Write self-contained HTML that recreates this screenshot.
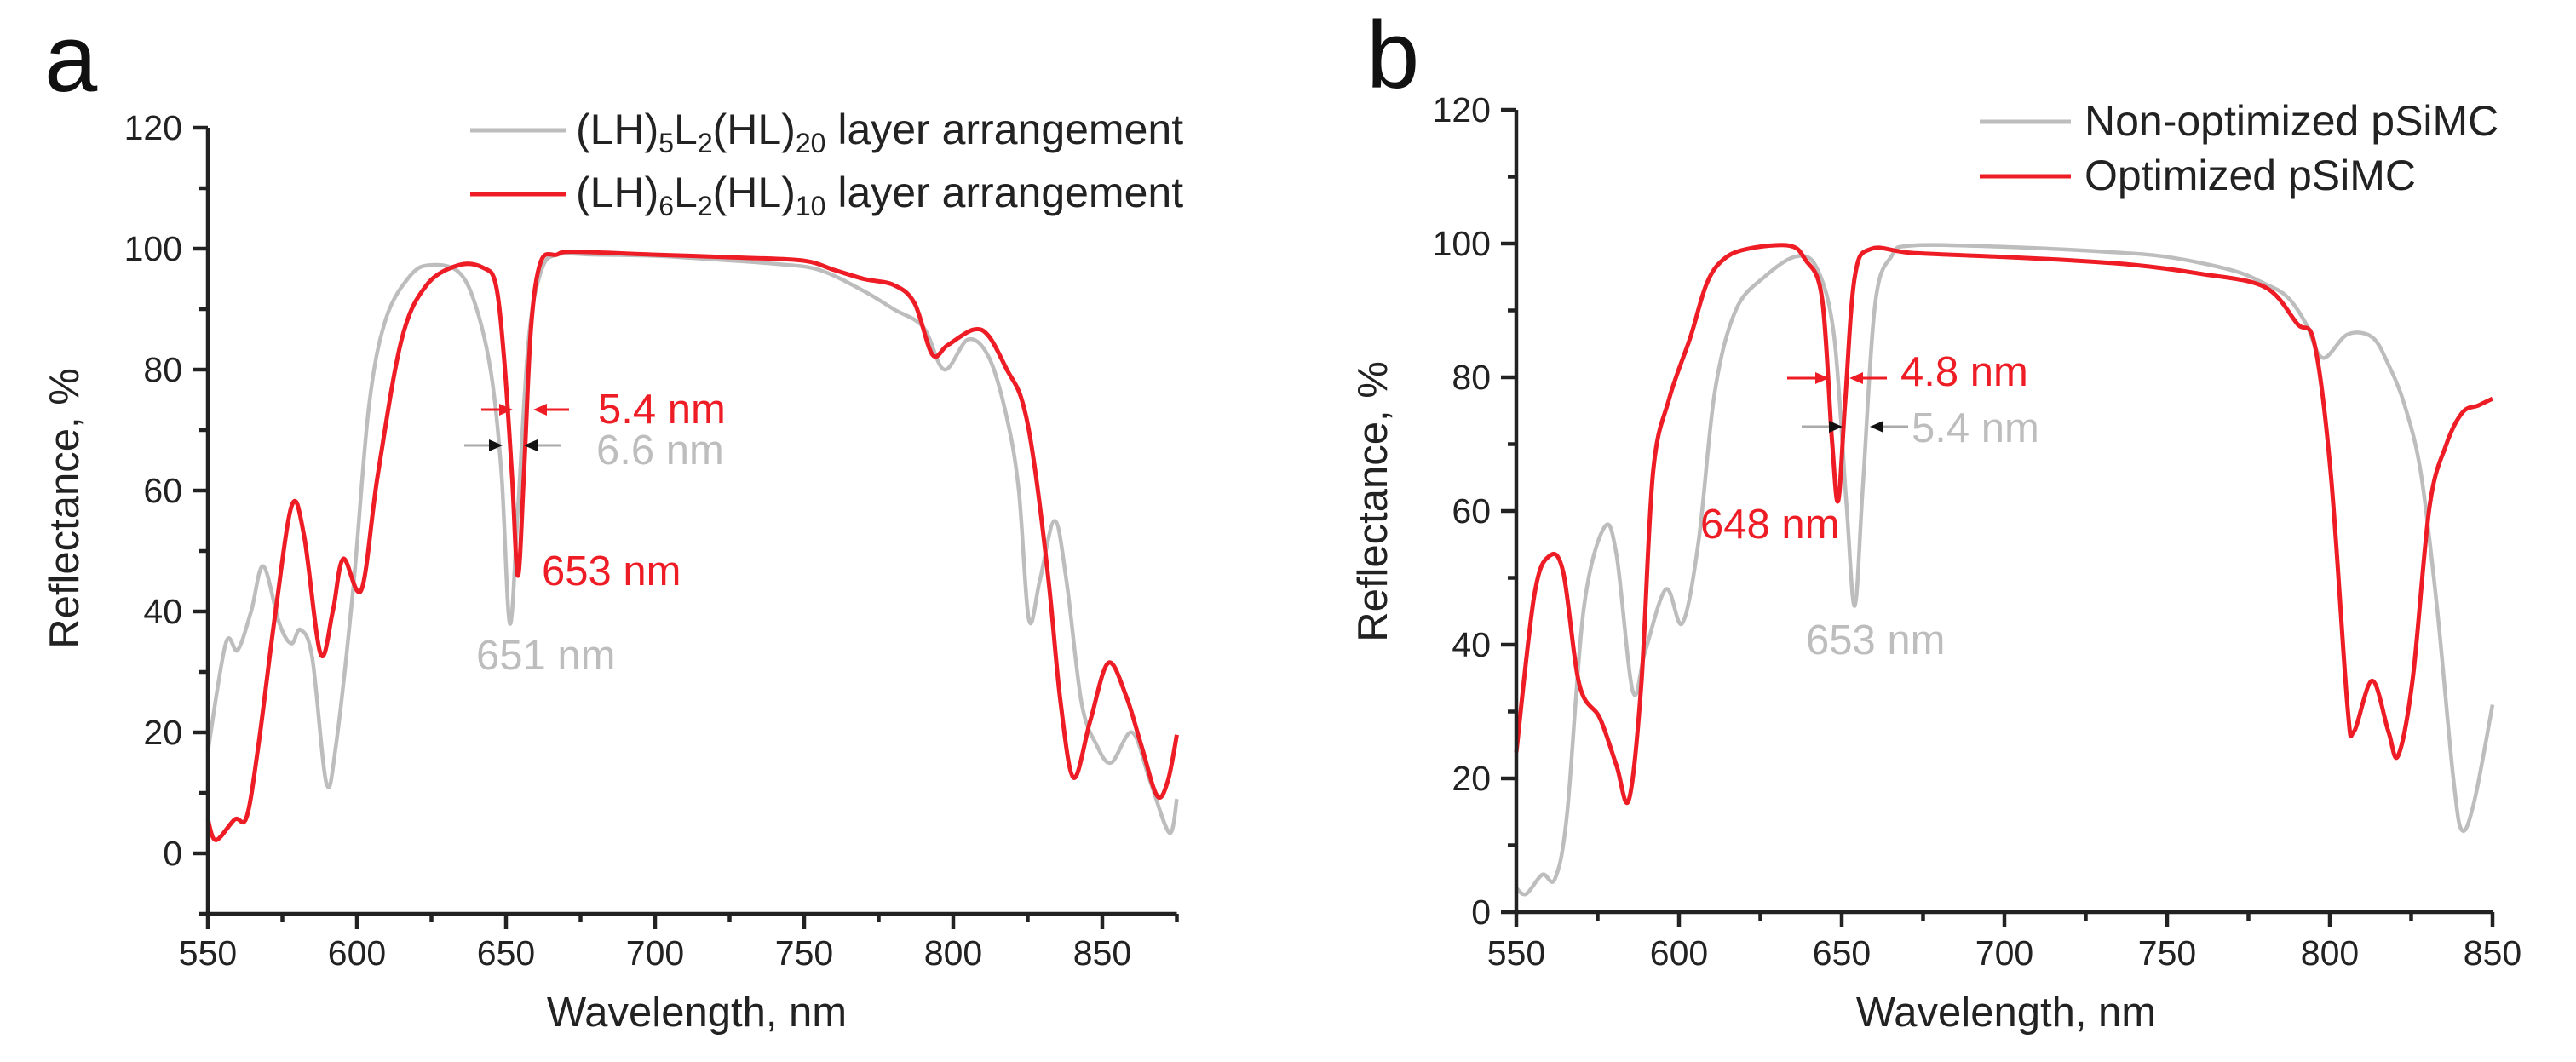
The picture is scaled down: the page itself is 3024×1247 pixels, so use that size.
<!DOCTYPE html>
<html><head><meta charset="utf-8"><style>
html,body{margin:0;padding:0;background:#fff;}
svg{display:block;font-family:"Liberation Sans",Arial,sans-serif;}
</style></head><body>
<svg id="fig" width="3024" height="1247" viewBox="0 0 3024 1247" xmlns="http://www.w3.org/2000/svg"></svg>
<script>
// Panel a data
const aGrayX=[550,556,560,564.5,568.6,574,578,581,585,589.7,593,598.7,604,609.7,618,624.7,634,639.8,645,648.5,651.3,654,657.6,661.7,667,680,700,720,740,755,770,780,790,797,805,812,818,822,825.4,829,834,838,843,848,853,860,866,872.5,875];
const aGrayY=[16.8,34.7,33.6,40,47.5,38,34.7,37,32.4,11.7,18,43.6,73.8,88.4,95.6,97.3,96.2,90.6,79.4,62.6,38,57,85,96.2,99,99,98.8,98.2,97.5,96.5,93,90,87,80,85,82,72,60,38.6,45,55,45,25,18,15,20,12,3.4,9];
const aRedX=[550,552.7,559,563,567,572.7,578.2,582.3,587.8,591.9,595.4,601.5,607,615,623.4,634.3,642.5,646.6,649.4,652,654,656,658.4,661.7,667,672.6,700,730,750,760,770,780,787,793,798,806.8,812,818,823,827,832,836,840.4,846,852,858,863,868.4,872,875];
const aRedY=[5.6,2.2,5.6,6,18,40,57.6,52.5,33,40,48.7,43.6,62.6,85,94,97.3,96.8,94,81.6,62.6,45.9,62.6,87,97.9,99,99.5,99,98.5,98,96.5,95,94,91,82.5,84,86.6,85.5,80,75,65,45,25,12.5,22,31.5,26,18,9.5,12,19.6];
// Panel b data
const bGrayX=[550,553,558,561.9,565.6,570.7,577,580.8,585.8,589.6,596,601,606,611,617.4,626.2,636.3,642.6,647.7,651.4,654,656.5,660.3,665.3,671.6,700,730,750,770,780,787,792.7,797.8,805.4,813,818,823,828,833,838,840.7,844.5,850];
const bGrayY=[3.6,2.7,5.6,5,14.7,45.3,57.5,53.4,33,39,48.3,43.2,55.4,77.8,90,95,98.1,96.1,86,61.5,45.8,63.6,91,98.1,99.7,99.5,98.8,98,96,94,92,88,82.9,86.4,86,81.9,75.8,65.6,45.3,19.8,12.2,16.8,31];
const bRedX=[550,555.5,560,564.4,569.4,575.7,580.8,584.6,588.4,592,597,603.5,608.5,613.6,621,633.8,638.8,643.9,647,648.9,651,654,659,671.6,700,720,740,760,780,790,795.3,800.3,805.4,807.4,813,818,821,825.5,830.6,835.6,840.7,845.7,850];
const bRedY=[23.9,47.3,53.2,50.9,34,29,21.9,16.8,34,65.6,76.8,86,94,97.6,99.2,99.7,97.6,92,70.7,61.5,75.8,95,99.2,98.6,98,97.5,96.8,95.5,93.5,88,85,65.6,31,27,34.6,27,23.4,35,60.5,69.7,74.7,75.8,76.8];
const aXTicks=[550,600,650,700,750,800,850];
const aYTicks=[0,20,40,60,80,100,120];
const bXTicks=[550,600,650,700,750,800,850];
const bYTicks=[0,20,40,60,80,100,120];

const NS='http://www.w3.org/2000/svg';
const svg=document.getElementById('fig');
function el(tag,attrs,parent,text){const e=document.createElementNS(NS,tag);for(const k in attrs)e.setAttribute(k,attrs[k]);if(text!==undefined)e.textContent=text;(parent||svg).appendChild(e);return e;}
function smooth(pts){let d='M'+pts[0][0].toFixed(1)+','+pts[0][1].toFixed(1);
 for(let i=0;i<pts.length-1;i++){const p0=pts[Math.max(0,i-1)],p1=pts[i],p2=pts[i+1],p3=pts[Math.min(pts.length-1,i+2)];
 const c1=[p1[0]+(p2[0]-p0[0])/6,p1[1]+(p2[1]-p0[1])/6],c2=[p2[0]-(p3[0]-p1[0])/6,p2[1]-(p3[1]-p1[1])/6];
 d+='C'+c1[0].toFixed(1)+','+c1[1].toFixed(1)+' '+c2[0].toFixed(1)+','+c2[1].toFixed(1)+' '+p2[0].toFixed(1)+','+p2[1].toFixed(1);}return d;}

function panel(cfg){
 const g=el('g',{});
 
 
 const X=v=>cfg.x0+(v-cfg.xmin)*cfg.sx, Y=v=>cfg.y0-(v)*cfg.sy;
 cfg.series.forEach(s=>{const p=el('path',{d:smooth(s.x.map((v,i)=>[X(v),Y(s.y[i])])),fill:'none',stroke:s.color,'stroke-width':s.w,'stroke-linejoin':'round'},g);
  
  });
 const axB=Y(cfg.ymin), axT=Y(cfg.ymax), axL=cfg.x0, axR=X(cfg.xmax);
 const ya=el('line',{x1:axL,y1:axT,x2:axL,y2:axB+2,stroke:'#222','stroke-width':4.5},g);
 
 
 const xa=el('line',{x1:axL-2,y1:axB,x2:axR,y2:axB,stroke:'#222','stroke-width':4.5},g);
 
 
 cfg.xt.forEach(v=>{el('line',{x1:X(v),y1:axB,x2:X(v),y2:axB+18,stroke:'#222','stroke-width':4.5},g);
  const t=el('text',{x:X(v),y:1133,'text-anchor':'middle','font-size':41,fill:'#222'},g,String(v));
  
  
  if(v+25<=cfg.xmax)el('line',{x1:X(v+25),y1:axB,x2:X(v+25),y2:axB+10,stroke:'#222','stroke-width':4.5},g);});
 cfg.yt.forEach(v=>{el('line',{x1:axL-18,y1:Y(v),x2:axL,y2:Y(v),stroke:'#222','stroke-width':4.5},g);
  const t=el('text',{x:axL-30,y:Y(v)+14,'text-anchor':'end','font-size':41,fill:'#222'},g,String(v));
  
  
  if(v+10<cfg.ymax)el('line',{x1:axL-10,y1:Y(v+10),x2:axL,y2:Y(v+10),stroke:'#222','stroke-width':4.5},g);});
 if(cfg.ymin<0)el('line',{x1:axL-10,y1:axB,x2:axL,y2:axB,stroke:'#222','stroke-width':4.5},g);
 const xt=el('text',{x:cfg.xtitleX,y:1205,'text-anchor':'middle','font-size':49,fill:'#222'},g,'Wavelength, nm');
 
 
 const yt=el('text',{x:0,y:0,'text-anchor':'middle','font-size':49,fill:'#222',transform:`translate(${cfg.ytitleX},${cfg.ytitleY}) rotate(-90)`},g,'Reflectance, %');
 
 
 return {g,X,Y};
}
function arrow(g,x1,x2,y,color,name){
 const dir=Math.sign(x2-x1);
 const l=el('line',{x1:x1,y1:y,x2:x2-dir*14,y2:y,stroke:color,'stroke-width':3},g);
 
 
 el('polygon',{points:`${x2},${y} ${x2-dir*16},${y-7} ${x2-dir*16},${y+7}`,fill:color==='#aaa'?'#111':color},g);
}
function txt(g,x,y,s,color,size,name,anchor){const t=el('text',{x:x,y:y,'font-size':size,fill:color,'text-anchor':anchor||'start'},g,s);
 
 return t;}

const RED='#ee1c25', GRAY='#bdbdbd';
const A=panel({name:'panel-a',x0:244,xmin:550,xmax:875,sx:3.5,y0:1002,sy:7.1,ymin:-10,ymax:120,xt:aXTicks,yt:aYTicks,xtitleX:818,ytitleX:92,ytitleY:597,
 series:[{name:'series-a-gray',x:aGrayX,y:aGrayY,color:GRAY,w:4.5},{name:'series-a-red',x:aRedX,y:aRedY,color:RED,w:5}]});
txt(A.g,52,107,'a','#111',112,'panel-label-a');
el('line',{x1:552,y1:153,x2:664,y2:153,stroke:GRAY,'stroke-width':5},A.g);
const la=el('text',{x:676,y:169,'font-size':50,fill:'#222'},A.g);


la.innerHTML='(LH)<tspan font-size="32" dy="10">5</tspan><tspan dy="-10">L</tspan><tspan font-size="32" dy="10">2</tspan><tspan dy="-10">(HL)</tspan><tspan font-size="32" dy="10">20</tspan><tspan dy="-10"> layer arrangement</tspan>';
el('line',{x1:552,y1:228,x2:664,y2:228,stroke:RED,'stroke-width':5},A.g);
const lb=el('text',{x:676,y:243,'font-size':50,fill:'#222'},A.g);


lb.innerHTML='(LH)<tspan font-size="32" dy="10">6</tspan><tspan dy="-10">L</tspan><tspan font-size="32" dy="10">2</tspan><tspan dy="-10">(HL)</tspan><tspan font-size="32" dy="10">10</tspan><tspan dy="-10"> layer arrangement</tspan>';
arrow(A.g,565,602,481,RED,'fwhm-arrow-red-left');arrow(A.g,668,626,481,RED,'fwhm-arrow-red-right');
arrow(A.g,545,590,523,'#aaa','fwhm-arrow-gray-left');arrow(A.g,658,615,523,'#aaa','fwhm-arrow-gray-right');
txt(A.g,702,497,'5.4 nm',RED,49,'fwhm-label-red');
txt(A.g,700,545,'6.6 nm',GRAY,49,'fwhm-label-gray');
txt(A.g,636,687,'653 nm',RED,49,'peak-label-red');
txt(A.g,559,786,'651 nm',GRAY,49,'peak-label-gray');

const B=panel({name:'panel-b',x0:1780,xmin:550,xmax:850,sx:3.82,y0:1071,sy:7.85,ymin:0,ymax:120,xt:bXTicks,yt:bYTicks,xtitleX:2355,ytitleX:1628,ytitleY:589,
 series:[{name:'series-b-gray',x:bGrayX,y:bGrayY,color:GRAY,w:4.5},{name:'series-b-red',x:bRedX,y:bRedY,color:RED,w:5}]});
txt(B.g,1604,103,'b','#111',112,'panel-label-b');
el('line',{x1:2324,y1:143,x2:2431,y2:143,stroke:GRAY,'stroke-width':5},B.g);
txt(B.g,2447,159,'Non-optimized pSiMC','#222',50,'legend-entry-gray');
el('line',{x1:2324,y1:207,x2:2431,y2:207,stroke:RED,'stroke-width':5},B.g);
txt(B.g,2447,223,'Optimized pSiMC','#222',50,'legend-entry-red');
arrow(B.g,2098,2147,444,RED,'fwhm-arrow-red-left');arrow(B.g,2215,2171,444,RED,'fwhm-arrow-red-right');
arrow(B.g,2115,2163,501,'#aaa','fwhm-arrow-gray-left');arrow(B.g,2240,2195,501,'#aaa','fwhm-arrow-gray-right');
txt(B.g,2231,453,'4.8 nm',RED,49,'fwhm-label-red');
txt(B.g,2244,519,'5.4 nm',GRAY,49,'fwhm-label-gray');
txt(B.g,1996,632,'648 nm',RED,49,'peak-label-red');
txt(B.g,2120,768,'653 nm',GRAY,49,'peak-label-gray');
</script>
</body></html>
